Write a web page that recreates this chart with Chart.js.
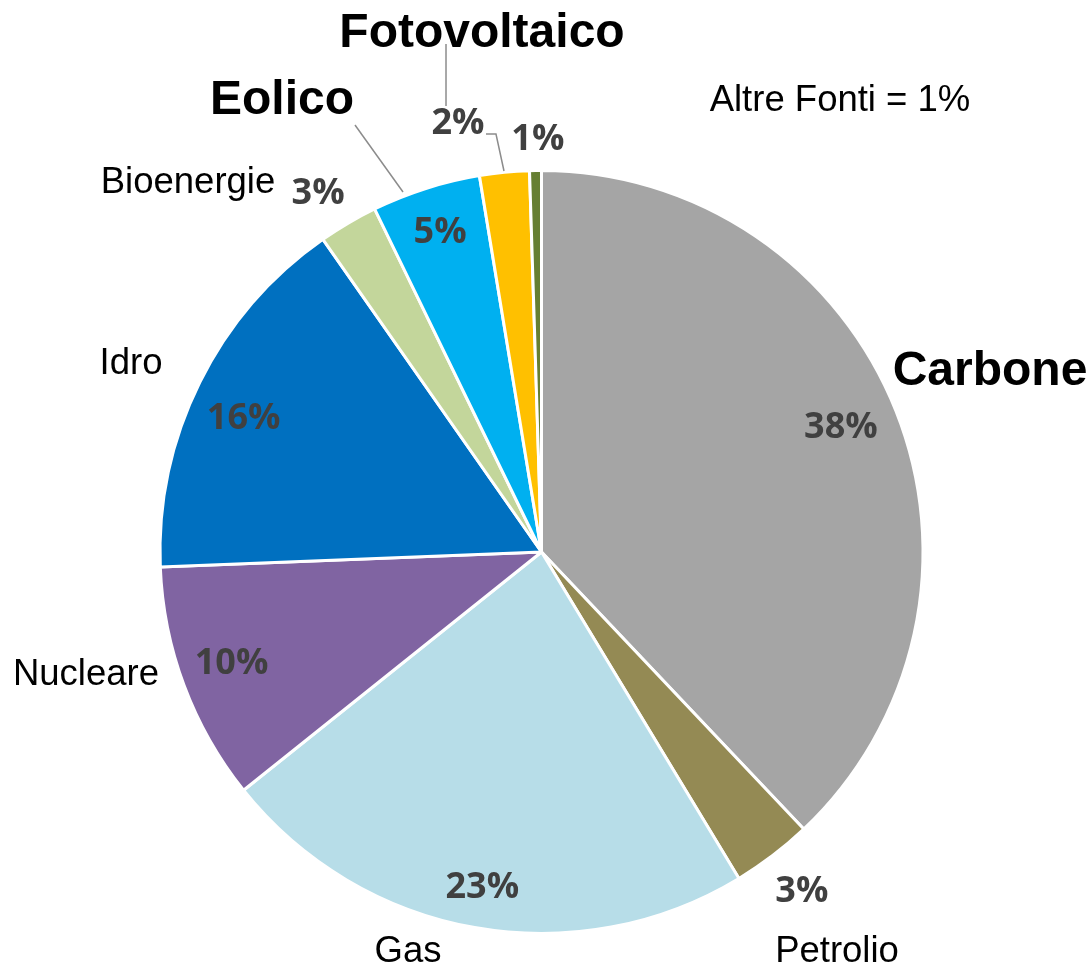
<!DOCTYPE html>
<html>
<head>
<meta charset="utf-8">
<script src="https://cdn.jsdelivr.net/npm/chart.js@4/dist/chart.umd.min.js"></script>
<style>
  html, body { margin: 0; padding: 0; background: #ffffff; }
  #wrap { width: 1091px; height: 968px; position: relative; }
</style>
</head>
<body>
<div id="wrap"><canvas id="c" width="1091" height="968"></canvas></div>
<script>
// ---- data ----
const categories = ['Carbone', 'Petrolio', 'Gas', 'Nucleare', 'Idro', 'Bioenergie', 'Eolico', 'Fotovoltaico', 'Altre Fonti'];
const shares = [37.9, 3.4, 22.9, 10.1, 15.9, 2.5, 4.6, 2.1, 0.5];
const nameTexts = ['Carbone', 'Petrolio', 'Gas', 'Nucleare', 'Idro', 'Bioenergie', 'Eolico', 'Fotovoltaico', 'Altre Fonti = 1%'];

// ---- styles ----
const colors = ['#A5A5A5', '#948A54', '#B7DDE8', '#8064A2', '#0070C0', '#C3D69B', '#00B0F0', '#FFC000', '#667F32'];
const boldName = [true, false, false, false, false, false, true, true, false];
// percentage label: radius factor and angular tweak (deg) from slice middle
const pctRadius = [0.852, 1.116, 0.886, 0.861, 0.858, 1.113, 0.886, 1.150, 1.088];
const pctAngleTweak = [-1.2, -0.4, 0, 1.1, -1.9, -1.3, 0.2, -5.4, 0.4];
// name label anchor (centre x, baseline) in pie-radius units from the pie centre
const nameOffsets = [
  [1.1756, -0.4377], [0.7746, 1.0747], [-0.3499, 1.0747], [-1.1940, 0.3486],
  [-1.0760, -0.4666], [-0.9266, -0.9410], [-0.6802, -1.1481], [-0.1560, -1.3237], [0.7824, -1.156]
];
// leader lines in pie-radius units
const leaders = [
  [[-0.4889, -1.1193], [-0.3630, -0.9436]],
  [[-0.2503, -1.3316], [-0.2503, -1.1691]],
  [[-0.1455, -1.0957], [-0.1193, -1.0957], [-0.0983, -0.9987]]
];

const total = shares.reduce((a, b) => a + b, 0);

const labelPlugin = {
  id: 'pieLabels',
  afterDatasetsDraw(chart) {
    const ctx = chart.ctx;
    const meta = chart.getDatasetMeta(0);
    const first = meta.data[0];
    const cx = first.x, cy = first.y, R = first.outerRadius;
    ctx.save();
    // leader lines
    ctx.strokeStyle = '#8C8C8C';
    ctx.lineWidth = 1.5;
    leaders.forEach(pts => {
      ctx.beginPath();
      pts.forEach((p, i) => {
        const x = cx + p[0] * R, y = cy + p[1] * R;
        if (i === 0) ctx.moveTo(x, y); else ctx.lineTo(x, y);
      });
      ctx.stroke();
    });
    // percentages
    ctx.textAlign = 'center';
    ctx.textBaseline = 'alphabetic';
    ctx.fillStyle = '#404040';
    ctx.font = 'bold 36px "Open Sans"';
    meta.data.forEach((arc, i) => {
      const mid = (arc.startAngle + arc.endAngle) / 2 + pctAngleTweak[i] * Math.PI / 180;
      const r = R * pctRadius[i];
      const x = cx + Math.cos(mid) * r;
      const y = cy + Math.sin(mid) * r;
      const txt = Math.round(shares[i] / total * 100) + '%';
      ctx.fillText(txt, x, y + 13);
    });
    // names
    ctx.fillStyle = '#000000';
    nameTexts.forEach((t, i) => {
      ctx.font = boldName[i] ? 'bold 48px "Liberation Sans"' : '36.5px "Liberation Sans"';
      const o = nameOffsets[i];
      ctx.fillText(t, cx + o[0] * R, cy + o[1] * R);
    });
    ctx.restore();
  }
};

new Chart(document.getElementById('c'), {
  type: 'pie',
  data: {
    labels: categories,
    datasets: [{
      data: shares,
      backgroundColor: colors,
      borderColor: '#FFFFFF',
      borderWidth: 3
    }]
  },
  options: {
    responsive: false,
    animation: false,
    radius: 381.5,
    layout: { padding: { top: 136, bottom: 0, left: 0, right: 8 } },
    plugins: { legend: { display: false }, tooltip: { enabled: false } }
  },
  plugins: [labelPlugin]
});
</script>
</body>
</html>
